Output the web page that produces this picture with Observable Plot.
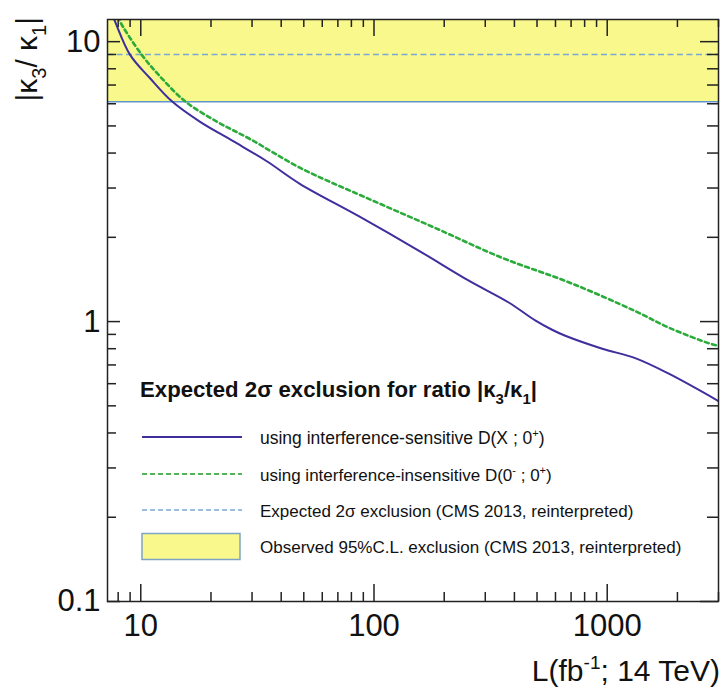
<!DOCTYPE html>
<html><head><meta charset="utf-8">
<script src="https://cdn.jsdelivr.net/npm/d3@7"></script>
<script src="https://cdn.jsdelivr.net/npm/@observablehq/plot@0.6"></script>
<style>body{margin:0;background:#fff} svg{display:block}</style>
</head><body><div id="chart"></div>
<script>
// ---- data ----
const lumiSensitive  = [7.6, 7.76, 9.0, 10.96, 13.6, 17.9, 24.9, 34.7, 48.3, 86, 156, 255, 378, 491, 580, 661, 952, 1318, 1845, 3000];
const kappaSensitive = [12.3, 11.8, 8.97, 7.4, 6.12, 5.18, 4.41, 3.74, 3.10, 2.38, 1.79, 1.40, 1.17, 1.01, 0.935, 0.89, 0.80, 0.74, 0.65, 0.52];
const lumiInsensitive  = [8.0, 8.15, 10.1, 12.3, 15.5, 21.2, 29.4, 48.3, 93.5, 183, 354, 687, 1318, 1845, 2750, 3000];
const kappaInsensitive = [12.3, 11.8, 8.97, 7.4, 6.12, 5.18, 4.49, 3.54, 2.76, 2.16, 1.69, 1.38, 1.09, 0.95, 0.835, 0.82];
const cmsExpected = [9.0];          // expected 2σ exclusion (CMS 2013)
const cmsObservedLow = [6.1];       // observed 95% C.L. exclusion lower edge
const xTickLabels = [10, 100, 1000];
const yTickLabels = [0.1, 1, 10];
const xDomain = [7.2, 3000];
const yDomain = [0.1, 12];
const legendTitle = ["Expected 2σ exclusion for ratio |κ", "3", "/κ", "1", "|"];

const sensitive = lumiSensitive.map((L, i) => ({L, k: kappaSensitive[i]}));
const insensitive = lumiInsensitive.map((L, i) => ({L, k: kappaInsensitive[i]}));
const observed = cmsObservedLow.map(lo => ({lo, hi: yDomain[1]}));

function minorTicks(domain, majors) {
  const out = [];
  for (const d of [0.01, 0.1, 1, 10, 100, 1000, 10000])
    for (let m = 1; m <= 9; m++) {
      const v = +(m * d).toPrecision(3);
      if (v >= domain[0] && v <= domain[1] && !majors.includes(v)) out.push(v);
    }
  return out;
}
const xMinor = minorTicks(xDomain, xTickLabels);
const yMinor = minorTicks(yDomain, yTickLabels);

const W = 722, H = 690, mL = 107, mR = 4, mT = 19, mB = 89;
const fW = W - mL - mR, fH = H - mT - mB;
const ink = "#222";
const font = "'Liberation Sans', Arial, sans-serif";

const chart = Plot.plot({
  width: W, height: H,
  marginLeft: mL, marginRight: mR, marginTop: mT, marginBottom: mB,
  style: {fontFamily: font, background: "#fff", color: "#111"},
  x: {type: "log", domain: xDomain, axis: null},
  y: {type: "log", domain: yDomain, axis: null},
  marks: [
    Plot.rect(observed, {y1: "lo", y2: "hi", fill: "#f8f88c"}),
    Plot.ruleY(cmsObservedLow, {stroke: "#5f95cf", strokeWidth: 1.5}),
    Plot.ruleY(cmsExpected, {stroke: "#7aa7d4", strokeWidth: 1.5, strokeDasharray: "6,3.5"}),
    Plot.line(insensitive, {x: "L", y: "k", stroke: "#2aab3a", strokeWidth: 2.6, strokeDasharray: "4,3.5", curve: "catmull-rom", clip: true}),
    Plot.line(sensitive, {x: "L", y: "k", stroke: "#3f2e9e", strokeWidth: 2, curve: "catmull-rom", clip: true}),
    // inward ticks on all four sides
    Plot.tickX(xTickLabels, {stroke: ink, strokeWidth: 1.5, insetTop: fH - 17}),
    Plot.tickX(xMinor, {stroke: ink, strokeWidth: 1.5, insetTop: fH - 9}),
    Plot.tickX(xTickLabels, {stroke: ink, strokeWidth: 1.5, insetBottom: fH - 17}),
    Plot.tickX(xMinor, {stroke: ink, strokeWidth: 1.5, insetBottom: fH - 8}),
    Plot.tickY(yTickLabels, {stroke: ink, strokeWidth: 1.5, insetRight: fW - 13}),
    Plot.tickY(yMinor, {stroke: ink, strokeWidth: 1.5, insetRight: fW - 9}),
    Plot.tickY(yTickLabels, {stroke: ink, strokeWidth: 1.5, insetLeft: fW - 18}),
    Plot.tickY(yMinor, {stroke: ink, strokeWidth: 1.5, insetLeft: fW - 11}),
    Plot.axisX({ticks: xTickLabels, tickSize: 0, tickPadding: 12, fontSize: 31, tickFormat: d => String(d), label: null}),
    Plot.axisY({ticks: yTickLabels, tickSize: 0, tickPadding: 7, fontSize: 31, tickFormat: d => String(d), label: null}),
    Plot.frame({stroke: ink, strokeWidth: 1.5})
  ]
});
document.getElementById("chart").append(chart);

const svg = d3.select(chart);
function richText(parent, parts, base, small) {
  // parts: [text, mode] mode: 0 normal, 1 subscript, 2 superscript
  let shift = 0;
  for (const [t, mode] of parts) {
    const target = mode === 1 ? base * 0.3 : mode === 2 ? -base * 0.4 : 0;
    const ts = parent.append("tspan").attr("dy", target - shift).text(t);
    if (mode) ts.attr("font-size", small);
    shift = target;
  }
}
// y axis label
const yl = svg.append("text").attr("transform", "translate(37,17) rotate(-90)")
  .attr("text-anchor", "end").attr("font-size", 30).attr("font-family", font).attr("fill", "#111");
richText(yl, [["|κ",0],["3",1],["/ κ",0],["1",1],["|",0]], 30, 20);
// x axis label
const xl = svg.append("text").attr("x", 720).attr("y", 681)
  .attr("text-anchor", "end").attr("font-size", 30).attr("font-family", font).attr("fill", "#111");
richText(xl, [["L(fb",0],["-1",2],["; 14 TeV)",0]], 30, 19);

// legend
const lg = svg.append("g").attr("font-family", font).attr("fill", "#111").attr("text-anchor", "start");
const tt = lg.append("text").attr("x", 140).attr("y", 397).attr("font-size", 22.2).attr("font-weight", "bold")
  .attr("text-anchor", "start");
richText(tt, legendTitle.map((t, i) => [t, i % 2 ? 1 : 0]), 22.2, 15);
const rows = [
  {y: 437, size: 17.5, parts: [["using interference-sensitive D(X ; 0",0],["+",2],[")",0]]},
  {y: 474, size: 17, parts: [["using interference-insensitive D(0",0],["-",2],[" ; 0",0],["+",2],[")",0]]},
  {y: 510, size: 17, parts: [["Expected 2σ exclusion (CMS 2013, reinterpreted)",0]]},
  {y: 546, size: 17, parts: [["Observed 95%C.L. exclusion (CMS 2013, reinterpreted)",0]]}
];
lg.append("line").attr("x1", 142).attr("x2", 242).attr("y1", 437).attr("y2", 437).attr("stroke", "#3f2e9e").attr("stroke-width", 2);
lg.append("line").attr("x1", 142).attr("x2", 242).attr("y1", 474).attr("y2", 474).attr("stroke", "#1f9a1f").attr("stroke-width", 1.5).attr("stroke-dasharray", "5,3");
lg.append("line").attr("x1", 142).attr("x2", 242).attr("y1", 510).attr("y2", 510).attr("stroke", "#7aa7d4").attr("stroke-width", 1.5).attr("stroke-dasharray", "5,3");
lg.append("rect").attr("x", 142).attr("y", 533.5).attr("width", 98).attr("height", 26).attr("fill", "#f8f88c").attr("stroke", "#7fa3c7").attr("stroke-width", 1.5);
for (const r of rows) {
  const t = lg.append("text").attr("x", 260).attr("y", r.y + 6.5).attr("font-size", r.size)
    .attr("text-anchor", "start");
  richText(t, r.parts, r.size, Math.round(r.size * 0.65));
}
</script></body></html>
